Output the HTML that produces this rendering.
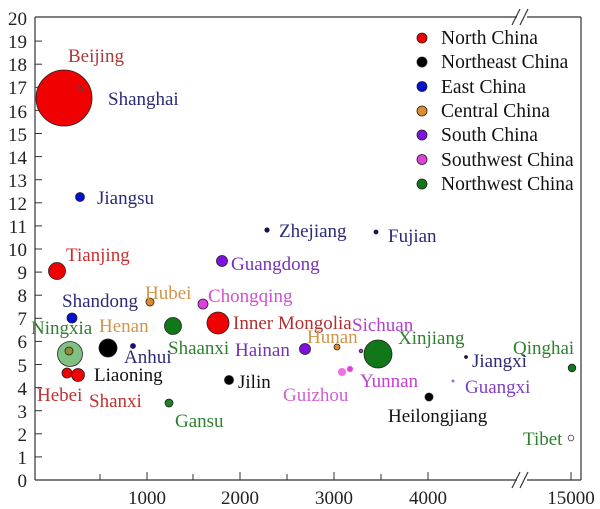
<!DOCTYPE html>
<html><head><meta charset="utf-8"><style>
html,body{margin:0;padding:0;background:#fff}
svg{display:block;font-family:"Liberation Serif",serif}
</style></head><body>
<svg width="600" height="509" viewBox="0 0 600 509" xmlns="http://www.w3.org/2000/svg">
<rect width="600" height="509" fill="#fff"/>
<g stroke="#333" stroke-width="1.2" fill="none">
<line x1="35" y1="17" x2="35" y2="480"/>
<line x1="35" y1="480" x2="517" y2="480"/>
<line x1="527" y1="480" x2="581" y2="480"/>
<line x1="35" y1="17" x2="517" y2="17"/>
<line x1="527" y1="17" x2="581" y2="17"/>
<line x1="581" y1="17" x2="581" y2="480"/>
<line x1="512" y1="488" x2="520" y2="472"/><line x1="520" y1="488" x2="528" y2="472"/>
<line x1="512" y1="25" x2="520" y2="9"/><line x1="520" y1="25" x2="528" y2="9"/>
</g>
<g stroke="#333" stroke-width="1">
<line x1="35" y1="456.9" x2="42" y2="456.9"/><line x1="35" y1="433.8" x2="42" y2="433.8"/><line x1="35" y1="410.7" x2="42" y2="410.7"/><line x1="35" y1="387.6" x2="42" y2="387.6"/><line x1="35" y1="364.5" x2="42" y2="364.5"/><line x1="35" y1="341.4" x2="42" y2="341.4"/><line x1="35" y1="318.3" x2="42" y2="318.3"/><line x1="35" y1="295.2" x2="42" y2="295.2"/><line x1="35" y1="272.1" x2="42" y2="272.1"/><line x1="35" y1="249" x2="42" y2="249"/><line x1="35" y1="225.9" x2="42" y2="225.9"/><line x1="35" y1="202.8" x2="42" y2="202.8"/><line x1="35" y1="179.7" x2="42" y2="179.7"/><line x1="35" y1="156.6" x2="42" y2="156.6"/><line x1="35" y1="133.5" x2="42" y2="133.5"/><line x1="35" y1="110.4" x2="42" y2="110.4"/><line x1="35" y1="87.3" x2="42" y2="87.3"/><line x1="35" y1="64.2" x2="42" y2="64.2"/><line x1="35" y1="41.1" x2="42" y2="41.1"/>
<line x1="100" y1="480" x2="100" y2="474"/><line x1="147" y1="480" x2="147" y2="472"/><line x1="193" y1="480" x2="193" y2="474"/><line x1="240" y1="480" x2="240" y2="472"/><line x1="287" y1="480" x2="287" y2="474"/><line x1="334" y1="480" x2="334" y2="472"/><line x1="381" y1="480" x2="381" y2="474"/><line x1="428" y1="480" x2="428" y2="472"/><line x1="571" y1="480" x2="571" y2="472"/>
</g>
<g font-size="19" fill="#222" text-anchor="end">
<text x="27" y="487">0</text><text x="27" y="464">1</text><text x="27" y="441">2</text><text x="27" y="418">3</text><text x="27" y="395">4</text><text x="27" y="372">5</text><text x="27" y="348">6</text><text x="27" y="325">7</text><text x="27" y="302">8</text><text x="27" y="279">9</text><text x="27" y="256">10</text><text x="27" y="233">11</text><text x="27" y="210">12</text><text x="27" y="187">13</text><text x="27" y="164">14</text><text x="27" y="141">15</text><text x="27" y="118">16</text><text x="27" y="94">17</text><text x="27" y="71">18</text><text x="27" y="48">19</text><text x="27" y="25">20</text>
</g>
<g font-size="19" fill="#222" text-anchor="middle">
<text x="147" y="504">1000</text><text x="240" y="504">2000</text><text x="334" y="504">3000</text><text x="428" y="504">4000</text><text x="571" y="504">15000</text>
</g>
<g stroke="#222" stroke-width="0.8">
<circle cx="64" cy="98" r="28" fill="#f00000"/>
<circle cx="80" cy="89" r="3" fill="none" stroke="#444"/>
<circle cx="80" cy="197" r="4.5" fill="#0010d0"/>
<circle cx="267" cy="230" r="2.2" fill="#101060"/>
<circle cx="376" cy="232" r="2" fill="#101060"/>
<circle cx="57" cy="271" r="8.5" fill="#f00000"/>
<circle cx="222" cy="261" r="5.5" fill="#8010e0"/>
<circle cx="150" cy="302" r="4" fill="#e08a30"/>
<circle cx="203" cy="304" r="5" fill="#e040e0"/>
<circle cx="72" cy="318" r="5" fill="#0010d0"/>
<circle cx="173" cy="326" r="8.5" fill="#107818"/>
<circle cx="218" cy="323" r="11" fill="#f00000"/>
<circle cx="70" cy="354" r="12.5" fill="#80c080"/>
<circle cx="69" cy="351" r="4" fill="#909030"/>
<circle cx="108" cy="348" r="9" fill="#000"/>
<circle cx="133" cy="346" r="2.5" fill="#1010a0"/>
<circle cx="305" cy="349" r="5.5" fill="#8010e0"/>
<circle cx="337" cy="347" r="3" fill="#e08a30"/>
<circle cx="361" cy="351" r="1.8" fill="#a040d0"/>
<circle cx="378" cy="354" r="14" fill="#107818"/>
<circle cx="466" cy="357" r="1.5" fill="#101060"/>
<circle cx="572" cy="368" r="3.8" fill="#107818"/>
<circle cx="67" cy="373" r="5" fill="#f00000"/>
<circle cx="78" cy="375" r="6.5" fill="#f00000"/>
<circle cx="342" cy="372" r="4" fill="#f070e0" stroke="none"/>
<circle cx="350" cy="369" r="3" fill="#e040e0" stroke="none"/>
<circle cx="229" cy="380" r="4.5" fill="#000"/>
<circle cx="453" cy="381" r="1.5" fill="#a070d0" stroke="none"/>
<circle cx="429" cy="397" r="4" fill="#000"/>
<circle cx="169" cy="403" r="4" fill="#208028"/>
<circle cx="571" cy="438" r="2.8" fill="#fff" stroke="#444"/>
</g>
<g font-size="19">
<text x="68" y="62" fill="#b03838">Beijing</text>
<text x="108" y="105" fill="#2a2a78">Shanghai</text>
<text x="97" y="204" fill="#2a2a78">Jiangsu</text>
<text x="279" y="237" fill="#2a2a78">Zhejiang</text>
<text x="388" y="242" fill="#2a2a78">Fujian</text>
<text x="66" y="261" fill="#c83030">Tianjing</text>
<text x="231" y="270" fill="#7a30b8">Guangdong</text>
<text x="145" y="299" fill="#d0954a">Hubei</text>
<text x="208" y="302" fill="#d050d0">Chongqing</text>
<text x="62" y="307" fill="#2a2a78">Shandong</text>
<text x="31" y="334" fill="#308030">Ningxia</text>
<text x="99" y="332" fill="#d0954a">Henan</text>
<text x="233" y="329" fill="#b03030">Inner Mongolia</text>
<text x="352" y="331" fill="#b040d0">Sichuan</text>
<text x="307" y="343" fill="#d0954a">Hunan</text>
<text x="398" y="344" fill="#308030">Xinjiang</text>
<text x="168" y="354" fill="#308030">Shaanxi</text>
<text x="124" y="363" fill="#2a2a78">Anhui</text>
<text x="235" y="356" fill="#7a30b8">Hainan</text>
<text x="513" y="354" fill="#308030">Qinghai</text>
<text x="472" y="367" fill="#2a2a78">Jiangxi</text>
<text x="94" y="381" fill="#111">Liaoning</text>
<text x="360" y="387" fill="#c040d0">Yunnan</text>
<text x="238" y="388" fill="#111">Jilin</text>
<text x="283" y="401" fill="#d060d0">Guizhou</text>
<text x="465" y="393" fill="#8040c0">Guangxi</text>
<text x="37" y="401" fill="#c03030">Hebei</text>
<text x="89" y="407" fill="#c03030">Shanxi</text>
<text x="175" y="427" fill="#308030">Gansu</text>
<text x="388" y="422" fill="#111">Heilongjiang</text>
<text x="523" y="445" fill="#308030">Tibet</text>
</g>
<g stroke="#222" stroke-width="0.8">
<circle cx="422" cy="38" r="5" fill="#f00000"/>
<circle cx="422" cy="62" r="5" fill="#000"/>
<circle cx="422" cy="86.5" r="5" fill="#0010d0"/>
<circle cx="422" cy="111" r="5" fill="#e08a30"/>
<circle cx="422" cy="135" r="5" fill="#8010e0"/>
<circle cx="422" cy="159.5" r="5" fill="#e040e0"/>
<circle cx="422" cy="184" r="5" fill="#107818"/>
</g>
<g font-size="19.5" fill="#111">
<text x="441" y="44">North China</text>
<text x="441" y="68">Northeast China</text>
<text x="441" y="93">East China</text>
<text x="441" y="117">Central China</text>
<text x="441" y="141">South China</text>
<text x="441" y="166">Southwest China</text>
<text x="441" y="190">Northwest China</text>
</g>
</svg>
</body></html>
